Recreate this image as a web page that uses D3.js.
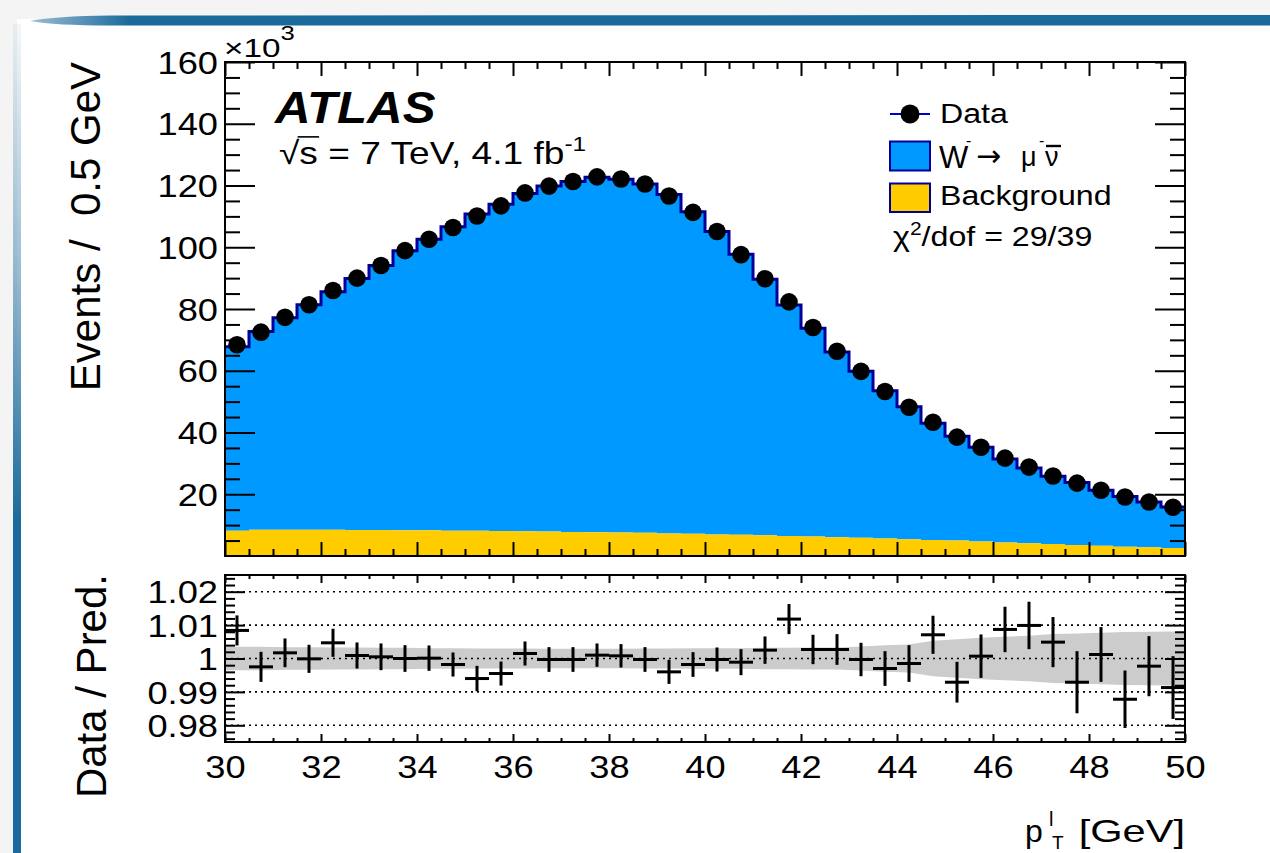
<!DOCTYPE html>
<html><head><meta charset="utf-8">
<script src="https://cdn.jsdelivr.net/npm/d3@7"></script>
<style>
html,body{margin:0;padding:0;background:#f4f4f4;}
svg{display:block;}
text{font-family:'Liberation Sans',Arial,Helvetica,sans-serif;fill:#000;}
</style></head><body>
<svg id="c" width="1270" height="853"></svg>
<script>
// ---------------- data (events in units of 10^3 per 0.5 GeV) ----------------
const binWidth = 0.5;
const binCenters = [30.25,30.75,31.25,31.75,32.25,32.75,33.25,33.75,34.25,34.75,
  35.25,35.75,36.25,36.75,37.25,37.75,38.25,38.75,39.25,39.75,
  40.25,40.75,41.25,41.75,42.25,42.75,43.25,43.75,44.25,44.75,
  45.25,45.75,46.25,46.75,47.25,47.75,48.25,48.75,49.25,49.75];
const dataValues = [68.4,72.5,77.3,81.4,86.0,90.0,94.1,98.9,102.6,106.4,
  110.1,113.4,117.6,119.8,121.3,122.8,122.1,120.5,116.6,111.3,
  105.1,97.6,89.8,82.3,74.0,66.3,59.8,53.3,48.2,43.3,
  38.5,35.2,31.7,28.8,25.9,23.6,21.3,19.1,17.5,15.8];
const signalValues = [59.6,64.2,68.7,72.9,77.1,81.5,85.7,90.6,94.3,98.4,
  102.6,105.8,109.4,111.9,113.5,115.0,114.4,113.0,109.8,104.3,
  98.1,90.8,82.9,74.8,67.5,60.0,53.9,47.8,42.9,37.8,
  33.8,30.5,27.0,24.4,21.9,20.2,18.0,16.3,14.7,13.3];
const backgroundValues = [8.2,8.5,8.5,8.5,8.5,8.4,8.4,8.3,8.3,8.2,
  8.2,8.1,8.0,7.9,7.8,7.7,7.6,7.5,7.3,7.2,
  7.0,6.9,6.7,6.5,6.3,6.1,5.9,5.7,5.4,5.2,
  5.0,4.7,4.4,4.1,3.9,3.6,3.3,3.0,2.8,2.6];
const ratioValues = [1.0084,0.9975,1.0017,0.9999,1.0047,1.0009,1.0005,1.0000,1.0001,0.9982,
  0.9940,0.9955,1.0015,0.9997,0.9997,1.0010,1.0008,0.9997,0.9960,0.9982,
  0.9997,0.9989,1.0025,1.0118,1.0027,1.0027,0.9997,0.9970,0.9985,1.0071,
  0.9929,1.0007,1.0087,1.0099,1.0049,0.9929,1.0012,0.9878,0.9977,0.9913];
const ratioErrors = [0.0045,0.0045,0.0043,0.0042,0.0042,0.0039,0.0040,0.0040,0.0038,0.0036,
  0.0038,0.0036,0.0036,0.0037,0.0037,0.0035,0.0035,0.0037,0.0036,0.0037,
  0.0036,0.0039,0.0041,0.0045,0.0044,0.0046,0.0050,0.0052,0.0055,0.0057,
  0.0061,0.0065,0.0068,0.0071,0.0075,0.0093,0.0082,0.0086,0.0090,0.0094];
const bandErrors = [0.0035,0.0035,0.0034,0.0034,0.0033,0.0033,0.0032,0.0032,0.0031,0.0031,
  0.0030,0.0030,0.0030,0.0029,0.0029,0.0029,0.0029,0.0030,0.0030,0.0031,
  0.0031,0.0031,0.0032,0.0032,0.0033,0.0033,0.0036,0.0040,0.0042,0.0053,
  0.0058,0.0062,0.0065,0.0068,0.0073,0.0075,0.0077,0.0079,0.0080,0.0081];
const xDomain = [30, 50];
const yDomain = [0, 160];
const ratioDomain = [0.975, 1.025];
const xTickValues = [30,32,34,36,38,40,42,44,46,48,50];
const yTickValues = [20,40,60,80,100,120,140,160];
const ratioTickValues = [0.98,0.99,1,1.01,1.02];
const ratioTickLabels = ["0.98","0.99","1","1.01","1.02"];
const legendLabels = ["Data", "Background"];
const chi2Label = "/dof = 29/39";

// ---------------- layout ----------------
const SX = 1.17;
const L = 225, R = 1185, mT = 62, mB = 556, rT = 575, rB = 742;
const svg = d3.select("#c");
const FONT = "'Liberation Sans',Arial,Helvetica,sans-serif";

// slide decoration
const defs = svg.append("defs");
const gTop = defs.append("linearGradient").attr("id","gtop").attr("x1",0).attr("x2",1).attr("y1",0).attr("y2",0);
gTop.append("stop").attr("offset","0").attr("stop-color","#9cbdd3");
gTop.append("stop").attr("offset","0.08").attr("stop-color","#1b6a9c");
gTop.append("stop").attr("offset","1").attr("stop-color","#1a699b");
const gLeft = defs.append("linearGradient").attr("id","gleft").attr("x1",0).attr("x2",0).attr("y1",0).attr("y2",1);
gLeft.append("stop").attr("offset","0").attr("stop-color","#1b6a9c").attr("stop-opacity",0.05);
gLeft.append("stop").attr("offset","0.3").attr("stop-color","#1b6a9c").attr("stop-opacity",0.45);
gLeft.append("stop").attr("offset","0.6").attr("stop-color","#1b6a9c").attr("stop-opacity",1);
gLeft.append("stop").attr("offset","1").attr("stop-color","#1b6a9c").attr("stop-opacity",1);
svg.append("rect").attr("width",1270).attr("height",853).attr("fill","#f4f4f4");
svg.append("rect").attr("x",17).attr("y",19).attr("width",1253).attr("height",834).attr("fill","#ffffff");
svg.append("path").attr("d","M30,21 Q55,16 110,15.5 L1270,15 L1270,25.5 L110,25.5 Q55,25.5 30,21 Z").attr("fill","url(#gtop)");
svg.append("rect").attr("x",13).attr("y",24).attr("width",8).attr("height",829).attr("fill","url(#gleft)");

// scales
const x = d3.scaleLinear().domain(xDomain).range([L, R]);
const y = d3.scaleLinear().domain(yDomain).range([mB, mT]);
const yr = d3.scaleLinear().domain(ratioDomain).range([rB, rT]);

defs.append("clipPath").attr("id","clipMain").append("rect").attr("x",L).attr("y",mT).attr("width",R-L).attr("height",mB-mT);
defs.append("clipPath").attr("id","clipRatio").append("rect").attr("x",L).attr("y",rT).attr("width",R-L).attr("height",rB-rT);

// bins
const bins = binCenters.map((c,i)=>({
  lo: c - binWidth/2, hi: c + binWidth/2, c,
  data: dataValues[i], sig: signalValues[i], bkg: backgroundValues[i],
  tot: signalValues[i] + backgroundValues[i],
  r: ratioValues[i], re: ratioErrors[i], be: bandErrors[i]
}));
const stepPts = bins.map(b=>({x:b.lo, tot:b.tot, bkg:b.bkg}));
const lastB = bins[bins.length-1];
stepPts.push({x:lastB.hi, tot:lastB.tot, bkg:lastB.bkg});

// ---------------- main panel ----------------
const gm = svg.append("g").attr("clip-path","url(#clipMain)");
gm.append("path").datum(stepPts)
  .attr("d", d3.area().curve(d3.curveStepAfter).x(d=>x(d.x)).y0(d=>y(d.bkg)).y1(d=>y(d.tot)))
  .attr("fill","#0099ff");
gm.append("path").datum(stepPts)
  .attr("d", d3.area().curve(d3.curveStepAfter).x(d=>x(d.x)).y0(y(0)).y1(d=>y(d.bkg)))
  .attr("fill","#ffcc00");
gm.append("path").datum(stepPts)
  .attr("d", d3.line().curve(d3.curveStepAfter).x(d=>x(d.x)).y(d=>y(d.tot)))
  .attr("fill","none").attr("stroke","#000099").attr("stroke-width",3);
gm.selectAll("circle.pt").data(bins).join("circle").attr("class","pt")
  .attr("cx",d=>x(d.c)).attr("cy",d=>y(d.data)).attr("r",8.8).attr("fill","#000");

function styleAxis(g, size){
  g.select(".domain").remove();
  g.attr("font-size", size).attr("font-family", FONT);
  g.selectAll("line").attr("stroke","#000").attr("stroke-width",2);
}
// main y axis
const yMinor = d3.range(5,160,5).filter(v=>v%20!==0);
const ay = svg.append("g").attr("transform",`translate(${L},0)`)
  .call(d3.axisLeft(y).tickValues(yTickValues).tickSize(-30).tickPadding(0));
styleAxis(ay, 31);
ay.selectAll("text").attr("x",null).attr("dy","0.36em").attr("transform",`translate(-7,0) scale(${SX},1)`);
svg.append("g").attr("transform",`translate(${L},0)`).call(d3.axisLeft(y).tickValues(yMinor).tickSize(-15).tickFormat("")).call(g=>styleAxis(g,10));
svg.append("g").attr("transform",`translate(${R},0)`).call(d3.axisRight(y).tickValues(yTickValues).tickSize(-30).tickFormat("")).call(g=>styleAxis(g,10));
svg.append("g").attr("transform",`translate(${R},0)`).call(d3.axisRight(y).tickValues(yMinor).tickSize(-15).tickFormat("")).call(g=>styleAxis(g,10));
// main x ticks (no labels)
const xMinor = d3.range(30.5,50,0.5).filter(v=>v%2!==0);
[[mB, d3.axisBottom],[mT, d3.axisTop]].forEach(([yy, fn])=>{
  svg.append("g").attr("transform",`translate(0,${yy})`).call(fn(x).tickValues(xTickValues).tickSize(-14).tickFormat("")).call(g=>styleAxis(g,10));
  svg.append("g").attr("transform",`translate(0,${yy})`).call(fn(x).tickValues(xMinor).tickSize(-7).tickFormat("")).call(g=>styleAxis(g,10));
});
svg.append("rect").attr("x",L).attr("y",mT).attr("width",R-L).attr("height",mB-mT)
  .attr("fill","none").attr("stroke","#000").attr("stroke-width",2);

// ---------------- ratio panel ----------------
const gr = svg.append("g").attr("clip-path","url(#clipRatio)");
const bandPts = [{x:xDomain[0], e:bins[0].be}].concat(bins.map(b=>({x:b.c, e:b.be}))).concat([{x:xDomain[1], e:lastB.be}]);
gr.append("path").datum(bandPts)
  .attr("d", d3.area().x(d=>x(d.x)).y0(d=>yr(1-d.e)).y1(d=>yr(1+d.e)))
  .attr("fill","#cccccc");
gr.selectAll("line.grid").data(ratioTickValues).join("line").attr("class","grid")
  .attr("x1",L).attr("x2",R).attr("y1",d=>yr(d)).attr("y2",d=>yr(d))
  .attr("stroke","#000").attr("stroke-width",1.6).attr("stroke-dasharray","2,4");
const cross = gr.selectAll("g.cross").data(bins).join("g").attr("class","cross");
cross.append("line").attr("x1",d=>x(d.lo)).attr("x2",d=>x(d.hi)).attr("y1",d=>yr(d.r)).attr("y2",d=>yr(d.r))
  .attr("stroke","#000").attr("stroke-width",3);
cross.append("line").attr("x1",d=>x(d.c)).attr("x2",d=>x(d.c)).attr("y1",d=>yr(d.r-d.re)).attr("y2",d=>yr(d.r+d.re))
  .attr("stroke","#000").attr("stroke-width",3);

const rMinor = d3.range(0.976,1.0245,0.002).filter(v=>Math.abs(Math.round(v*100)-v*100)>1e-6);
const ary = svg.append("g").attr("transform",`translate(${L},0)`)
  .call(d3.axisLeft(yr).tickValues(ratioTickValues).tickFormat((d,i)=>ratioTickLabels[i]).tickSize(-20).tickPadding(0));
styleAxis(ary, 31);
ary.selectAll("text").attr("x",null).attr("dy","0.36em").attr("transform",`translate(-7,0) scale(${SX},1)`);
svg.append("g").attr("transform",`translate(${L},0)`).call(d3.axisLeft(yr).tickValues(rMinor).tickSize(-10).tickFormat("")).call(g=>styleAxis(g,10));
svg.append("g").attr("transform",`translate(${R},0)`).call(d3.axisRight(yr).tickValues(ratioTickValues).tickSize(-20).tickFormat("")).call(g=>styleAxis(g,10));
svg.append("g").attr("transform",`translate(${R},0)`).call(d3.axisRight(yr).tickValues(rMinor).tickSize(-10).tickFormat("")).call(g=>styleAxis(g,10));
const axb = svg.append("g").attr("transform",`translate(0,${rB})`)
  .call(d3.axisBottom(x).tickValues(xTickValues).tickSize(-8).tickPadding(14));
styleAxis(axb, 31);
axb.selectAll("text").attr("transform",`scale(${SX},1)`);
svg.append("g").attr("transform",`translate(0,${rB})`).call(d3.axisBottom(x).tickValues(xMinor).tickSize(-4).tickFormat("")).call(g=>styleAxis(g,10));
svg.append("g").attr("transform",`translate(0,${rT})`).call(d3.axisTop(x).tickValues(xTickValues).tickSize(-8).tickFormat("")).call(g=>styleAxis(g,10));
svg.append("g").attr("transform",`translate(0,${rT})`).call(d3.axisTop(x).tickValues(xMinor).tickSize(-4).tickFormat("")).call(g=>styleAxis(g,10));
svg.append("rect").attr("x",L).attr("y",rT).attr("width",R-L).attr("height",rB-rT)
  .attr("fill","none").attr("stroke","#000").attr("stroke-width",2);

// ---------------- texts ----------------
function htext(px, py, str, size, sx, anchor){
  const t = svg.append("text").attr("transform",`translate(${px},${py}) scale(${sx},1)`)
    .attr("font-size",size).text(str);
  if (anchor) t.attr("text-anchor",anchor);
  return t;
}
// x10^3
const e3 = htext(224, 57, "×10", 26, 1.28);
e3.append("tspan").attr("font-size",20).attr("dy",-17).text("3");
// axis titles
svg.append("text").attr("transform","translate(100,62) rotate(-90)").attr("text-anchor","end")
  .attr("font-size",42).style("white-space","pre").text("Events /  0.5 GeV");
svg.append("text").attr("transform","translate(106,574) rotate(-90)").attr("text-anchor","end")
  .attr("font-size",42).style("white-space","pre").text("Data / Pred.");
// x title: p_T^l [GeV]
const xt = svg.append("text").attr("font-size",32);
xt.append("tspan").attr("x",1025).attr("y",842).text("p");
xt.append("tspan").attr("x",1049).attr("y",826).attr("font-size",20).text("l");
xt.append("tspan").attr("x",1052).attr("y",849).attr("font-size",19).text("T");
htext(1185, 842, "[GeV]", 32, 1.3, "end");

// ATLAS label
htext(275, 123, "ATLAS", 44, 1.12).attr("font-weight","bold").attr("font-style","italic");
const sq = htext(279, 164, "√s = 7 TeV, 4.1 fb", 32, 1.16);
sq.append("tspan").attr("font-size",21).attr("dy",-13).text("-1");
// overbar of the square root over the "s"
(function(){
  const el = sq.node();
  const e0 = el.getExtentOfChar(0), e1 = el.getExtentOfChar(1);
  const g = svg.append("g").attr("transform",`translate(279,164) scale(1.16,1)`);
  g.append("line").attr("x1",e0.x+e0.width-1.5).attr("x2",e1.x+e1.width+1)
    .attr("y1",e0.y+1.5).attr("y2",e0.y+1.5).attr("stroke","#000").attr("stroke-width",1.6);
})();

// legend
svg.append("line").attr("x1",890).attr("x2",930).attr("y1",114).attr("y2",114).attr("stroke","#0000cc").attr("stroke-width",2);
svg.append("circle").attr("cx",910).attr("cy",114).attr("r",9.5).attr("fill","#000");
htext(940, 123, legendLabels[0], 27.5, SX);
svg.append("rect").attr("x",890).attr("y",141.5).attr("width",40).attr("height",29).attr("fill","#0099ff").attr("stroke","#000099").attr("stroke-width",2);
svg.append("rect").attr("x",890).attr("y",183.5).attr("width",40).attr("height",28.5).attr("fill","#ffcc00").attr("stroke","#000099").attr("stroke-width",2);
const wl = svg.append("text").attr("font-size",27);
wl.append("tspan").attr("x",939).attr("y",168).attr("font-size",31).text("W");
wl.append("tspan").attr("x",966).attr("y",146).attr("font-size",16).text("-");
wl.append("tspan").attr("x",976).attr("y",166).attr("font-size",30).style("font-family","'DejaVu Sans',sans-serif").text("→");
wl.append("tspan").attr("x",1021).attr("y",166).text("μ");
wl.append("tspan").attr("x",1039).attr("y",146).attr("font-size",16).text("-");
wl.append("tspan").attr("x",1045).attr("y",166).text("ν");
svg.append("line").attr("x1",1046).attr("x2",1061).attr("y1",146).attr("y2",146).attr("stroke","#000").attr("stroke-width",2.4);
htext(940, 205, legendLabels[1], 27.5, SX);
const chi = htext(893, 246, "χ", 27.5, SX);
chi.append("tspan").attr("font-size",18).attr("dy",-11).text("2");
chi.append("tspan").attr("dy",11).text(chi2Label);
</script>
</body></html>
